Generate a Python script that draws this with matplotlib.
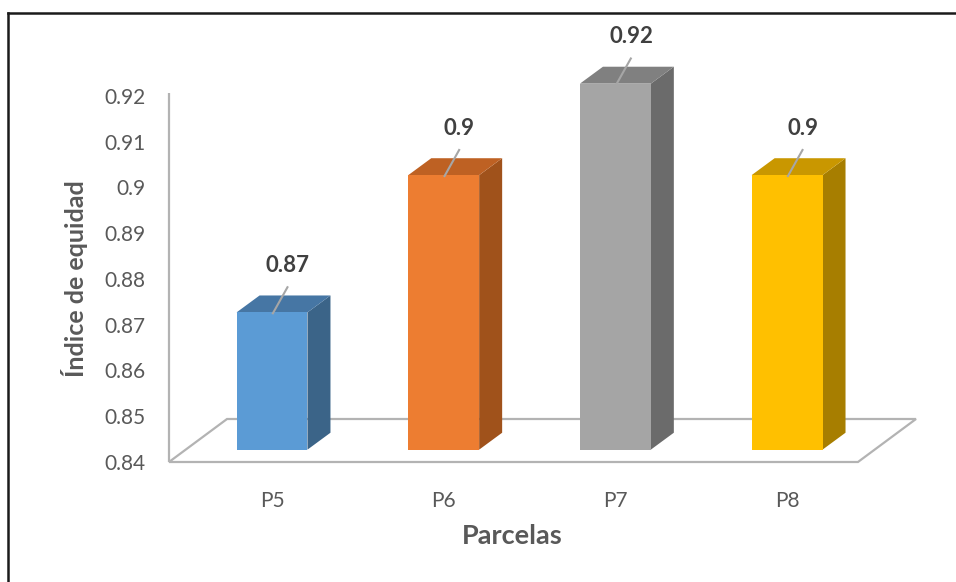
import matplotlib.pyplot as plt
from matplotlib.patches import Polygon
from matplotlib.lines import Line2D

# Chart data
parcelas = ["P5", "P6", "P7", "P8"]
equidad = [0.87, 0.90, 0.92, 0.90]
y_ticks = [0.84, 0.85, 0.86, 0.87, 0.88, 0.89, 0.90, 0.91, 0.92]
y_tick_labels = ["0.84", "0.85", "0.86", "0.87", "0.88", "0.89", "0.9", "0.91", "0.92"]
value_labels = ["0.87", "0.9", "0.92", "0.9"]

# Colours: front, top, side of each bar
front_colors = ["#5B9BD5", "#ED7D31", "#A5A5A5", "#FFC000"]
top_colors = ["#4676A4", "#BE6123", "#808080", "#C99700"]
side_colors = ["#3B6488", "#A0521B", "#6B6B6B", "#A77E00"]

plt.rcParams["font.family"] = ["Lato", "DejaVu Sans"]

BASE = 0.84
YMAX = 0.92306
XMIN, XMAX = -0.6, 3.751
FLOOR_RIGHT = 3.413
DEPTH_DX, DEPTH_DY = 0.338, 0.0094     # floor depth offset
BAR_W = 0.413
BAR_DX, BAR_DY = 0.134, 0.0037         # bar depth offset
BAR_LIFT = 0.0027                      # bars sit a bit behind the front edge
GRID_C = "#B3B3B3"
TEXT_C = "#595959"


def draw_chart():
    W, H = 956, 582
    fig = plt.figure(figsize=(W / 100, H / 100), dpi=100)
    ax = fig.add_axes([169 / W, (H - 462) / H, (916 - 169) / W, 380 / H])
    ax.set_xlim(XMIN, XMAX)
    ax.set_ylim(BASE, YMAX)
    for s in ax.spines.values():
        s.set_visible(False)

    # floor
    floor = [(XMIN, BASE), (FLOOR_RIGHT, BASE),
             (FLOOR_RIGHT + DEPTH_DX, BASE + DEPTH_DY),
             (XMIN + DEPTH_DX, BASE + DEPTH_DY)]
    ax.add_patch(Polygon(floor, closed=True, facecolor="white", edgecolor=GRID_C,
                         lw=1.6, zorder=1, clip_on=False))
    # vertical value axis
    ax.plot([XMIN, XMIN], [BASE, y_ticks[-1] + 0.0007], color=GRID_C, lw=1.6,
            zorder=1, clip_on=False, solid_capstyle="butt")

    for i, v in enumerate(equidad):
        x0, x1 = i - BAR_W / 2, i + BAR_W / 2
        y0 = BASE + BAR_LIFT
        y1 = v + BAR_LIFT
        front = [(x0, y0), (x1, y0), (x1, y1), (x0, y1)]
        top = [(x0, y1), (x1, y1), (x1 + BAR_DX, y1 + BAR_DY), (x0 + BAR_DX, y1 + BAR_DY)]
        side = [(x1, y0), (x1 + BAR_DX, y0 + BAR_DY), (x1 + BAR_DX, y1 + BAR_DY), (x1, y1)]
        ax.add_patch(Polygon(side, closed=True, facecolor=side_colors[i], edgecolor="none",
                             zorder=3, clip_on=False))
        ax.add_patch(Polygon(top, closed=True, facecolor=top_colors[i], edgecolor="none",
                             zorder=3, clip_on=False))
        ax.add_patch(Polygon(front, closed=True, facecolor=front_colors[i], edgecolor="none",
                             zorder=4, clip_on=False))
        # leader line + label
        ax.plot([i + 0.005, i + 0.09], [y1 - 0.0002, y1 + 0.0055], color="#A6A6A6",
                lw=1.5, zorder=5, clip_on=False)
        ax.text(i + 0.092, y1 + 0.0102, value_labels[i], ha="center", va="center",
                fontsize=16, fontweight="bold", color="#404040", zorder=6, clip_on=False)

    ax.set_yticks(y_ticks)
    ax.set_yticklabels(y_tick_labels)
    ax.set_xticks(range(len(parcelas)))
    ax.set_xticklabels(parcelas)
    ax.tick_params(axis="y", length=0, pad=17, labelsize=15, labelcolor=TEXT_C)
    ax.tick_params(axis="x", length=0, pad=21, labelsize=15, labelcolor=TEXT_C)

    fig.text(75 / W, 1 - 279 / H, "Índice de equidad", rotation=90, ha="center",
             va="center", fontsize=18, fontweight="bold", color=TEXT_C)
    fig.text(512 / W, 1 - 536 / H, "Parcelas", ha="center", va="center",
             fontsize=19.5, fontweight="bold", color=TEXT_C)

    # outer frame (only top and left visible)
    fig.add_artist(Line2D([8 / W, 8 / W], [0, 1 - 13 / H], color="#1A1A1A", lw=1.8,
                          transform=fig.transFigure))
    fig.add_artist(Line2D([8 / W, 1], [1 - 13 / H, 1 - 13 / H], color="#1A1A1A", lw=1.8,
                          transform=fig.transFigure))

    fig.savefig("out.png", dpi=100, facecolor="white")


if __name__ == "__main__":
    draw_chart()
